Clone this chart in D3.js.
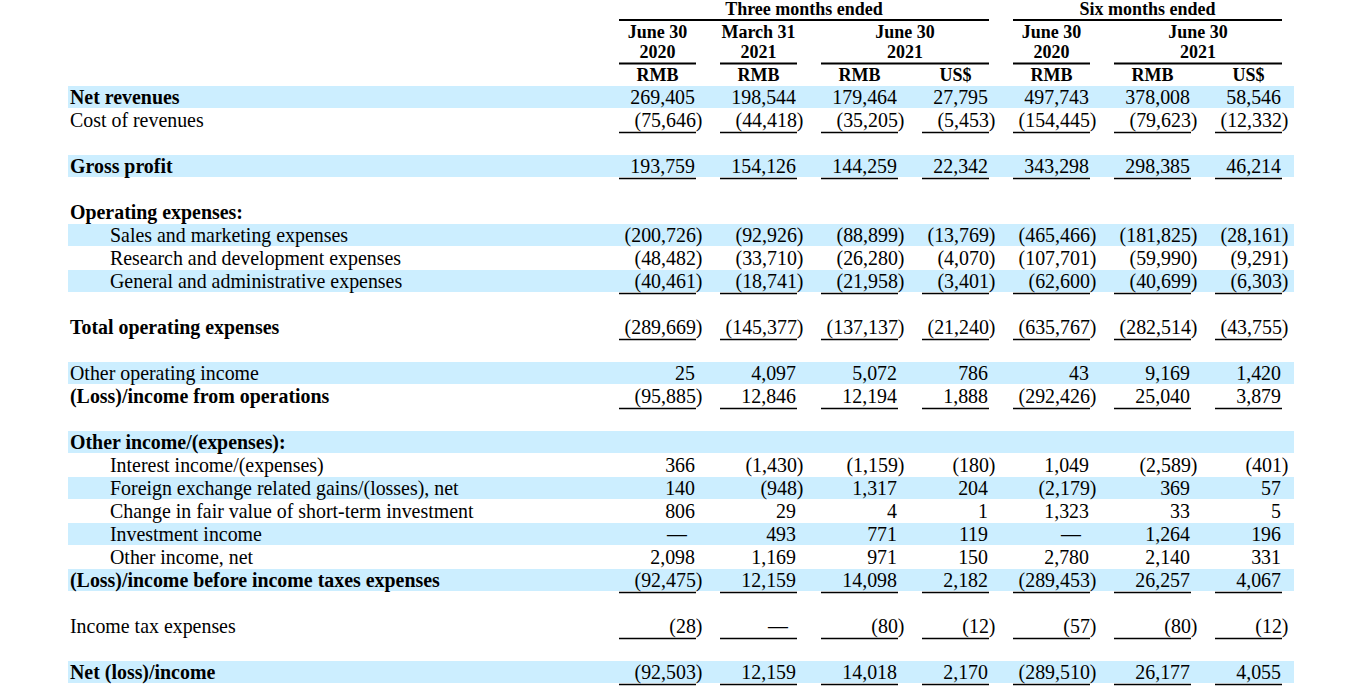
<!DOCTYPE html>
<html><head><meta charset="utf-8">
<script src="https://cdn.jsdelivr.net/npm/d3@7"></script>
<style>
html,body{margin:0;padding:0;background:#fff;}
svg{display:block;font-family:"Liberation Serif","Times New Roman",serif;}
</style></head>
<body><svg id="chart" width="1350" height="699"></svg>
<script>
// ---- data ----
const columns = ["c0","c1","c2","c3","c4","c5","c6"];
const currencies = ["RMB","RMB","RMB","US$","RMB","RMB","US$"];
const periodGroups = [
  {label:"Three months ended", from:0, to:3},
  {label:"Six months ended", from:4, to:6}
];
const dateHeaders = [
  {line1:"June 30", line2:"2020", from:0, to:0},
  {line1:"March 31", line2:"2021", from:1, to:1},
  {line1:"June 30", line2:"2021", from:2, to:3},
  {line1:"June 30", line2:"2020", from:4, to:4},
  {line1:"June 30", line2:"2021", from:5, to:6}
];
const rowLabels = [
  "Net revenues","Cost of revenues","","Gross profit","",
  "Operating expenses:","Sales and marketing expenses","Research and development expenses","General and administrative expenses","",
  "Total operating expenses","","Other operating income","(Loss)/income from operations","",
  "Other income/(expenses):","Interest income/(expenses)","Foreign exchange related gains/(losses), net","Change in fair value of short-term investment","Investment income",
  "Other income, net","(Loss)/income before income taxes expenses","","Income tax expenses","",
  "Net (loss)/income"
];
const rowValues = [
  [269405,198544,179464,27795,497743,378008,58546],
  [-75646,-44418,-35205,-5453,-154445,-79623,-12332],
  null,
  [193759,154126,144259,22342,343298,298385,46214],
  null,
  null,
  [-200726,-92926,-88899,-13769,-465466,-181825,-28161],
  [-48482,-33710,-26280,-4070,-107701,-59990,-9291],
  [-40461,-18741,-21958,-3401,-62600,-40699,-6303],
  null,
  [-289669,-145377,-137137,-21240,-635767,-282514,-43755],
  null,
  [25,4097,5072,786,43,9169,1420],
  [-95885,12846,12194,1888,-292426,25040,3879],
  null,
  null,
  [366,-1430,-1159,-180,1049,-2589,-401],
  [140,-948,1317,204,-2179,369,57],
  [806,29,4,1,1323,33,5],
  [null,493,771,119,null,1264,196],
  [2098,1169,971,150,2780,2140,331],
  [-92475,12159,14098,2182,-289453,26257,4067],
  null,
  [-28,null,-80,-12,-57,-80,-12],
  null,
  [-92503,12159,14018,2170,-289510,26177,4055]
];
const boldRows = [0,3,5,10,13,15,21,25];
const indentRows = [6,7,8,16,17,18,19,20];
const shadedRows = [0,3,6,8,12,15,17,19,21,25];
const underlinedRows = [1,3,8,10,13,21,23,25];

// ---- layout ----
const svg = d3.select("#chart");
const colRight = d3.scaleOrdinal().domain(columns).range([696,797,898,989,1090,1191,1282]);
const colWidth = d3.scaleOrdinal().domain(columns).range([77,77,77,67,77,77,67]);
const y = d3.scaleLinear().domain([0,1]).range([97,120]);
const fmt = d3.format(",");
const BODY = 19.9, HEAD = 18;

// shading
svg.append("g").selectAll("rect").data(shadedRows).join("rect")
  .attr("x",68).attr("width",1294-68)
  .attr("y",d=>y(d)-11).attr("height",22)
  .attr("fill","#cceeff");

// header groups
const hg = svg.append("g").attr("font-weight","bold").attr("font-size",HEAD).attr("fill","#000").attr("text-anchor","middle");
periodGroups.forEach(g=>{
  const x0 = colRight(columns[g.from]) - colWidth(columns[g.from]);
  const x1 = colRight(columns[g.to]);
  hg.append("text").attr("x",(x0+x1)/2).attr("y",15).text(g.label);
  svg.append("line").attr("x1",x0).attr("x2",x1).attr("y1",20).attr("y2",20).attr("stroke","#000").attr("stroke-width",2);
});
dateHeaders.forEach(g=>{
  const x0 = colRight(columns[g.from]) - colWidth(columns[g.from]);
  const x1 = colRight(columns[g.to]);
  hg.append("text").attr("x",(x0+x1)/2).attr("y",38).text(g.line1);
  hg.append("text").attr("x",(x0+x1)/2).attr("y",58).text(g.line2);
  svg.append("line").attr("x1",x0).attr("x2",x1).attr("y1",63.5).attr("y2",63.5).attr("stroke","#000").attr("stroke-width",2);
});
hg.selectAll("text.cur").data(columns).join("text").attr("class","cur")
  .attr("x",c=>colRight(c)-colWidth(c)/2).attr("y",80.5)
  .text((c,i)=>currencies[i]);

// row labels
svg.append("g").attr("font-size",BODY).attr("fill","#000")
  .selectAll("text").data(rowLabels.map((l,i)=>({l,i})).filter(d=>d.l)).join("text")
  .attr("x",d=>indentRows.includes(d.i)?110:70)
  .attr("y",d=>y(d.i)+6.5)
  .attr("font-weight",d=>boldRows.includes(d.i)?"bold":"normal")
  .text(d=>d.l);

// values
const cells = [];
rowValues.forEach((vals,i)=>{ if(vals) vals.forEach((v,j)=>cells.push({i,c:columns[j],v})); });
svg.append("g").attr("font-size",BODY).attr("fill","#000")
  .selectAll("text").data(cells).join("text")
  .attr("text-anchor","end")
  .attr("x",d=> d.v===null ? colRight(d.c)-9 : (d.v<0 ? colRight(d.c)+6.5 : colRight(d.c)-1))
  .attr("y",d=>y(d.i)+6.5)
  .text(d=> d.v===null ? "\u2014" : (d.v<0 ? "("+fmt(-d.v)+")" : fmt(d.v)));

// underlines
const ul = [];
underlinedRows.forEach(i=>columns.forEach(c=>ul.push({i,c})));
svg.append("g").selectAll("line").data(ul).join("line")
  .attr("x1",d=>colRight(d.c)-colWidth(d.c)).attr("x2",d=>colRight(d.c))
  .attr("y1",d=>y(d.i)+12.5).attr("y2",d=>y(d.i)+12.5)
  .attr("stroke","#000").attr("stroke-width",1.5);
</script></body></html>
